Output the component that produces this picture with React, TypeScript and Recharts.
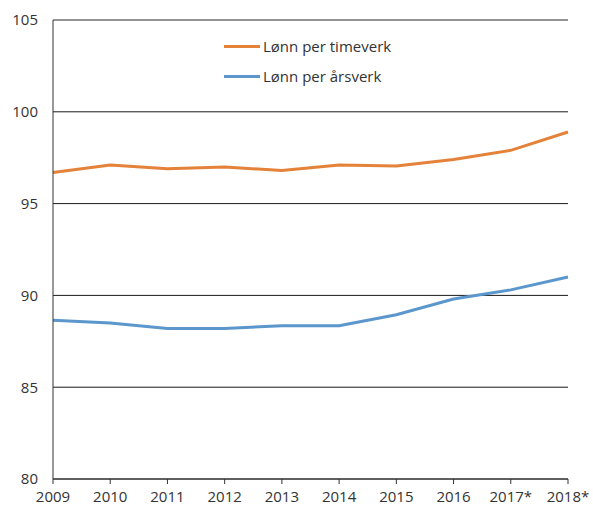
import { LineChart, Line, XAxis, YAxis, CartesianGrid, ReferenceLine } from 'recharts';

const years = ['2009', '2010', '2011', '2012', '2013', '2014', '2015', '2016', '2017*', '2018*'];
const timeverk = [96.7, 97.1, 96.9, 97.0, 96.8, 97.1, 97.05, 97.4, 97.9, 98.9];
const arsverk = [88.65, 88.5, 88.2, 88.2, 88.35, 88.35, 88.95, 89.8, 90.3, 91.0];
const yTicks = [80, 85, 90, 95, 100, 105];

const ORANGE = '#E5823A';
const BLUE = '#5B97CC';
const FONT = '"Open Sans", sans-serif';

const data = years.map((year, i) => ({ year, timeverk: timeverk[i], arsverk: arsverk[i] }));

// legend sits inside the plot area, drawn as a plain overlay
function LegendBox() {
  const items: [string, string][] = [[ORANGE, 'Lønn per timeverk'], [BLUE, 'Lønn per årsverk']];
  return (
    <div style={{ position: 'absolute', left: 224, top: 31, fontFamily: FONT, fontSize: 15, color: '#333' }}>
      {items.map(([color, label]) => (
        <div key={label} style={{ display: 'flex', alignItems: 'center', height: 30 }}>
          <div style={{ width: 36, height: 3, background: color, marginRight: 3 }} />
          <span>{label}</span>
        </div>
      ))}
    </div>
  );
}

export default function App() {
  return (
    <div style={{ position: 'relative', width: 593, height: 508 }}>
      <style>{'body{margin:0}'}</style>
      <LineChart width={593} height={508} data={data} margin={{ top: 20, right: 25, bottom: 0, left: 0 }}>
        <CartesianGrid vertical={false} stroke="#1a1a1a" />
        <ReferenceLine y={105} stroke="#9a9a9a" />
        <XAxis
          dataKey="year"
          height={29}
          stroke="#333"
          tickSize={5}
          tickMargin={7}
          tick={{ fill: '#333', fontSize: 15, fontFamily: FONT }}
        />
        <YAxis
          domain={[80, 105]}
          ticks={yTicks}
          width={53}
          stroke="#333"
          tickLine={false}
          tickMargin={9}
          tick={{ fill: '#333', fontSize: 15, fontFamily: FONT }}
        />
        <Line type="linear" dataKey="timeverk" stroke={ORANGE} strokeWidth={3} dot={false} isAnimationActive={false} />
        <Line type="linear" dataKey="arsverk" stroke={BLUE} strokeWidth={3} dot={false} isAnimationActive={false} />
      </LineChart>
      <LegendBox />
    </div>
  );
}
